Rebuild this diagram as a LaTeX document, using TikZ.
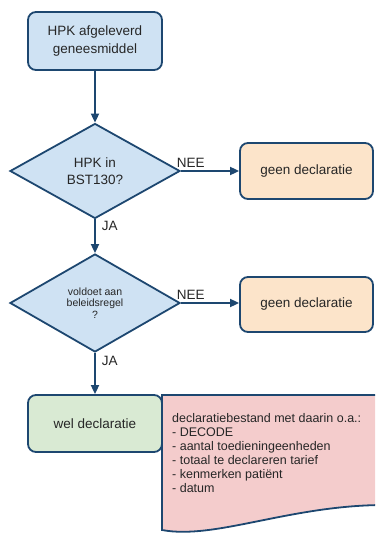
\documentclass[tikz,border=0pt]{standalone}
\usepackage{fontspec}
\setmainfont{Liberation Sans}
\usetikzlibrary{shapes.geometric, arrows.meta}

\begin{document}
\begin{tikzpicture}[x=1pt, y=-1pt]
    % Define line width
    \def\lineW{1.8pt}

    \definecolor{borderColour}{HTML}{1D4770}
    \definecolor{textColour}{HTML}{262626}
    \definecolor{blueFill}{HTML}{CFE2F3}
    \definecolor{orangeFill}{HTML}{FCE4CA}
    \definecolor{greenFill}{HTML}{D9EAD3}
    \definecolor{pinkFill}{HTML}{F4CCCC}

    \tikzset{
        stepBox/.style={rectangle, rounded corners=8pt, draw=borderColour, line width=\lineW,
            text=textColour, align=center, font=\fontsize{13.5}{18}\selectfont, inner sep=0pt},
        choiceBox/.style={diamond, aspect=1.8, draw=borderColour, fill=blueFill, line width=\lineW,
            text=textColour, align=center, inner sep=0pt, minimum width=170pt},
        flowArrow/.style={draw=borderColour, line width=\lineW, -{Triangle[length=9pt,width=8pt]}},
        answerLabel/.style={text=textColour, font=\fontsize{13.5}{15}\selectfont, inner sep=2pt}
    }

    % Fix the page size
    \useasboundingbox (0,0) rectangle (375,533);

    % Draw the start box
    \node[stepBox, fill=blueFill, minimum width=134pt, minimum height=58pt] (hpkBox) at (95,41)
        {HPK afgeleverd\\geneesmiddel};

    % Draw the decisions
    \node[choiceBox, minimum height=95pt, font=\fontsize{13.5}{16.5}\selectfont] (bstChoice) at (95,171)
        {HPK in\\BST130?};
    \node[choiceBox, minimum height=98pt, font=\fontsize{10.5}{11.5}\selectfont] (beleidChoice) at (95,303)
        {voldoet aan\\beleidsregel\\?};

    % Draw the outcome boxes
    \node[stepBox, fill=orangeFill, minimum width=133pt, minimum height=56pt] (geenBoxA) at (306.5,171)
        {geen declaratie};
    \node[stepBox, fill=orangeFill, minimum width=133pt, minimum height=55pt] (geenBoxB) at (306.5,304.5)
        {geen declaratie};
    \node[stepBox, fill=greenFill, minimum width=134pt, minimum height=57pt] (welBox) at (95,423.5)
        {wel declaratie};

    % Draw the declaration file
    \begin{scope}
        \clip (0,0) rectangle (375,533);
        \filldraw[fill=pinkFill, draw=borderColour, line width=\lineW]
            (162,395) -- (385,395) -- (385,505)
            .. controls (290,505) and (215,540) .. (162,530) -- cycle;
    \end{scope}
    \node[anchor=north west, align=left, text=textColour, inner sep=0pt,
        font=\fontsize{12.5}{14}\selectfont] (declText) at (172,413)
        {declaratiebestand met daarin o.a.:\\- DECODE\\- aantal toedieningeenheden\\
         - totaal te declareren tarief\\- kenmerken patiënt\\- datum};

    % Draw the arrows
    \draw[flowArrow] (hpkBox) -- (bstChoice);
    \draw[flowArrow] (bstChoice.east) -- (geenBoxA.west)
        node[answerLabel, pos=0.17, above, yshift=1pt] {NEE};
    \draw[flowArrow] (bstChoice.south) -- (beleidChoice.north)
        node[answerLabel, pos=0.2, right, xshift=4pt] {JA};
    \draw[flowArrow] (beleidChoice.east) -- (geenBoxB.west |- beleidChoice.east)
        node[answerLabel, pos=0.17, above, yshift=1pt] {NEE};
    \draw[flowArrow] (beleidChoice.south) -- (welBox.north)
        node[answerLabel, pos=0.2, right, xshift=4pt] {JA};

\end{tikzpicture}
\end{document}
